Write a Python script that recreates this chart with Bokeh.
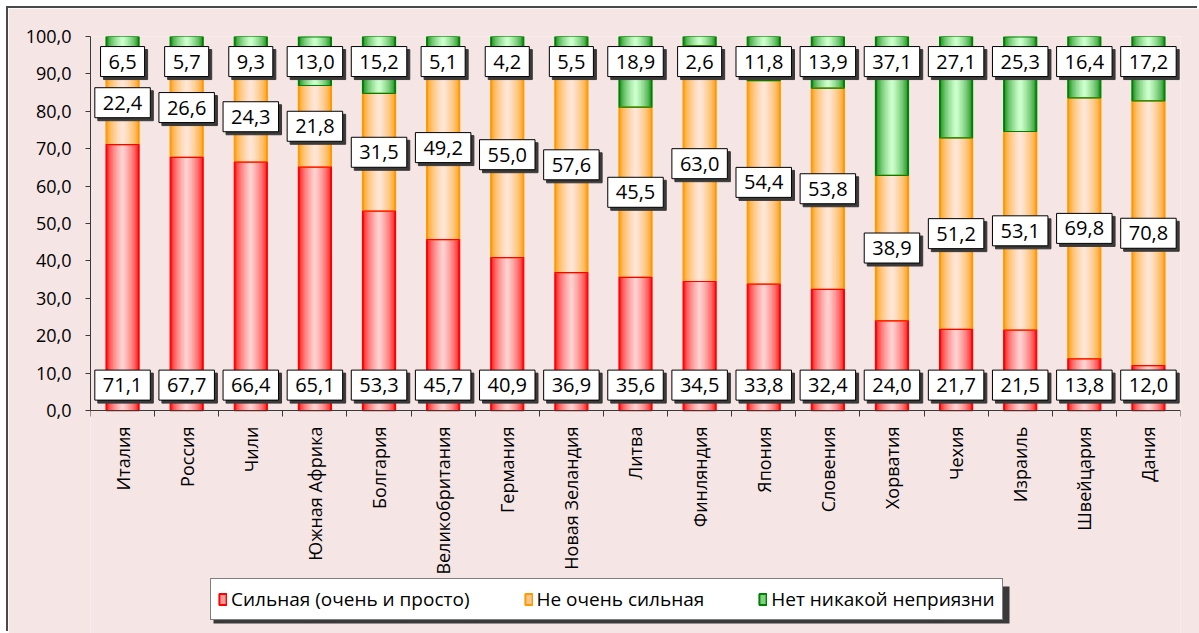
import numpy as np
from bokeh.plotting import figure
from bokeh.models import (Range1d, FixedTicker, CustomJSTickFormatter, Legend,
                          LegendItem, ColumnDataSource, BoxAnnotation)
from bokeh.embed import file_html
from bokeh.resources import INLINE
from bokeh.core.properties import value

# ---------------- data ----------------
countries = ["Италия", "Россия", "Чили", "Южная Африка", "Болгария",
             "Великобритания", "Германия", "Новая Зеландия", "Литва",
             "Финляндия", "Япония", "Словения", "Хорватия", "Чехия",
             "Израиль", "Швейцария", "Дания"]
strong = [71.1, 67.7, 66.4, 65.1, 53.3, 45.7, 40.9, 36.9, 35.6, 34.5,
          33.8, 32.4, 24.0, 21.7, 21.5, 13.8, 12.0]
not_strong = [22.4, 26.6, 24.3, 21.8, 31.5, 49.2, 55.0, 57.6, 45.5, 63.0,
              54.4, 53.8, 38.9, 51.2, 53.1, 69.8, 70.8]
no_dislike = [6.5, 5.7, 9.3, 13.0, 15.2, 5.1, 4.2, 5.5, 18.9, 2.6,
              11.8, 13.9, 37.1, 27.1, 25.3, 16.4, 17.2]
series_names = ["Сильная (очень и просто)", "Не очень сильная",
                "Нет никакой неприязни"]
y_ticks = [0, 10, 20, 30, 40, 50, 60, 70, 80, 90, 100]

# ---------------- style ----------------
FONT = value("Open Sans")
BG = "#F5E5E5"
SHADOW = "#3a3a3a"
edges = ["#FF0000", "#FF9900", "#008000"]
centers = ["#FFD0D0", "#FFE6D8", "#CCFFCC"]
legend_fill = ["#FF9A9A", "#FFC58A", "#7FD07F"]
BAR_W = 0.515
N_LAYERS = 12
RED_LABEL_Y = 6.8
GREEN_LABEL_Y = 93.3
Y_MIN = -59.6   # room below the axis for category names and legend

W, H = 1191, 625
BORDER_L, BORDER_T, BORDER_R = 82, 28, 19
LEG_X, LEG_Y = 120, 13           # legend offset from the frame's bottom-left
LEG_W, LEG_H = 796, 37           # approximate legend box size (for its shadow)


def mix(c1, c2, t):
    a = [int(c1[i:i + 2], 16) for i in (1, 3, 5)]
    b = [int(c2[i:i + 2], 16) for i in (1, 3, 5)]
    return "#" + "".join("%02x" % int(round(a[j] + (b[j] - a[j]) * t)) for j in range(3))


def fmt(v):
    return ("%.1f" % v).replace(".", ",")


n = len(countries)
xs = np.arange(n) + 0.5
s1 = np.array(strong)
s2 = np.array(not_strong)
s3 = np.array(no_dislike)
bottoms = [np.zeros(n), s1, s1 + s2]
tops = [s1, s1 + s2, s1 + s2 + s3]

p = figure(width=W, height=H, output_backend="svg", toolbar_location=None,
           x_range=Range1d(0, n), y_range=Range1d(Y_MIN, 100),
           min_border_left=BORDER_L, min_border_top=BORDER_T,
           min_border_right=BORDER_R, min_border_bottom=0)
p.margin = (8, 0, 0, 8)
p.background_fill_color = BG
p.border_fill_color = BG
p.outline_line_color = None
p.xgrid.visible = False
p.ygrid.visible = False
p.styles = {"box-shadow": "-2px -2px 0px 0px #4a4a4a"}

# gradient bars (nested layers)
for si in range(3):
    src = ColumnDataSource(dict(x=xs, bottom=bottoms[si], top=tops[si]))
    for k in range(N_LAYERS):
        t = k / (N_LAYERS - 1)
        g = t ** 0.55
        w = BAR_W * (1 - k / N_LAYERS)
        p.vbar(x="x", bottom="bottom", top="top", width=w, source=src,
               fill_color=mix(edges[si], centers[si], g), line_color=None)
for si in [1, 0, 2]:
    src = ColumnDataSource(dict(x=xs, bottom=bottoms[si], top=tops[si]))
    p.vbar(x="x", bottom="bottom", top="top", width=BAR_W, source=src,
           fill_color=None, line_color=edges[si], line_width=1.2)

# data labels
lab_x = np.concatenate([xs, xs, xs])
lab_y = np.concatenate([np.full(n, RED_LABEL_Y), s1 + s2 / 2, np.full(n, GREEN_LABEL_Y)])
lab_t = [fmt(v) for v in strong] + [fmt(v) for v in not_strong] + [fmt(v) for v in no_dislike]
lsrc = ColumnDataSource(dict(x=lab_x, y=lab_y, text=lab_t))
PAD = dict(left=8, right=8, top=8, bottom=8)
p.text(x="x", y="y", text="text", source=lsrc, text_align="center",
       text_baseline="middle", text_font=FONT, text_font_size="20px",
       text_color=SHADOW, background_fill_color=SHADOW,
       border_line_color=SHADOW, padding=PAD, x_offset=3, y_offset=3)
p.text(x="x", y="y", text="text", source=lsrc, text_align="center",
       text_baseline="middle", text_font=FONT, text_font_size="20px",
       text_color="black", background_fill_color="white",
       border_line_color="black", border_line_width=1, padding=PAD)

# axes
p.yaxis.ticker = FixedTicker(ticks=y_ticks)
p.yaxis.bounds = (0, 100)
p.yaxis.formatter = CustomJSTickFormatter(code="return tick.toFixed(1).replace('.', ',');")
p.yaxis.major_tick_out = 5
p.yaxis.major_tick_in = 0
p.yaxis.minor_tick_out = 0
p.yaxis.minor_tick_in = 0
p.yaxis.major_label_text_font = "Open Sans"
p.yaxis.major_label_text_font_size = "18px"
p.yaxis.major_label_text_color = "black"
p.yaxis.axis_line_color = "#3a3a3a"
p.yaxis.major_tick_line_color = "#3a3a3a"
p.yaxis.major_label_standoff = 14

p.xaxis.fixed_location = 0
p.xaxis.ticker = FixedTicker(ticks=list(xs), minor_ticks=list(range(n + 1)))
p.xaxis.formatter = CustomJSTickFormatter(args=dict(labels=countries),
                                          code="return labels[Math.floor(tick)];")
p.xaxis.major_tick_out = 0
p.xaxis.major_tick_in = 0
p.xaxis.minor_tick_out = 6
p.xaxis.minor_tick_in = 0
p.xaxis.major_label_orientation = np.pi / 2
p.xaxis.major_label_text_font = "Open Sans"
p.xaxis.major_label_text_font_size = "18px"
p.xaxis.major_label_text_color = "black"
p.xaxis.axis_line_color = "#3a3a3a"
p.xaxis.minor_tick_line_color = "#3a3a3a"
p.xaxis.major_label_standoff = 10

# legend shadow (canvas pixels)
leg_left = BORDER_L + LEG_X
leg_bottom = H - LEG_Y
p.add_layout(BoxAnnotation(left=leg_left + 3, right=leg_left + LEG_W + 3,
                           top=leg_bottom - LEG_H + 3, bottom=leg_bottom + 3,
                           left_units="canvas", right_units="canvas",
                           top_units="canvas", bottom_units="canvas",
                           fill_color=SHADOW, fill_alpha=1, line_color=None))

# legend (dummy zero-height renderers outside the visible x range provide the swatches)
items = []
for si in range(3):
    r = p.vbar(x=[-1.0], bottom=[0.0], top=[0.0], width=0.5,
               fill_color=legend_fill[si], line_color=edges[si], line_width=2)
    items.append(LegendItem(label=series_names[si], renderers=[r]))

legend = Legend(items=items, location=(LEG_X, LEG_Y), orientation="horizontal",
                label_text_font="Open Sans", label_text_font_size="19px",
                glyph_width=9, glyph_height=14, spacing=54, padding=7,
                margin=0, label_standoff=4, background_fill_alpha=1,
                border_line_color="black", border_line_width=1,
                background_fill_color="white", label_text_color="black")
p.add_layout(legend)

open("out.html", "w").write(file_html(p, INLINE))
